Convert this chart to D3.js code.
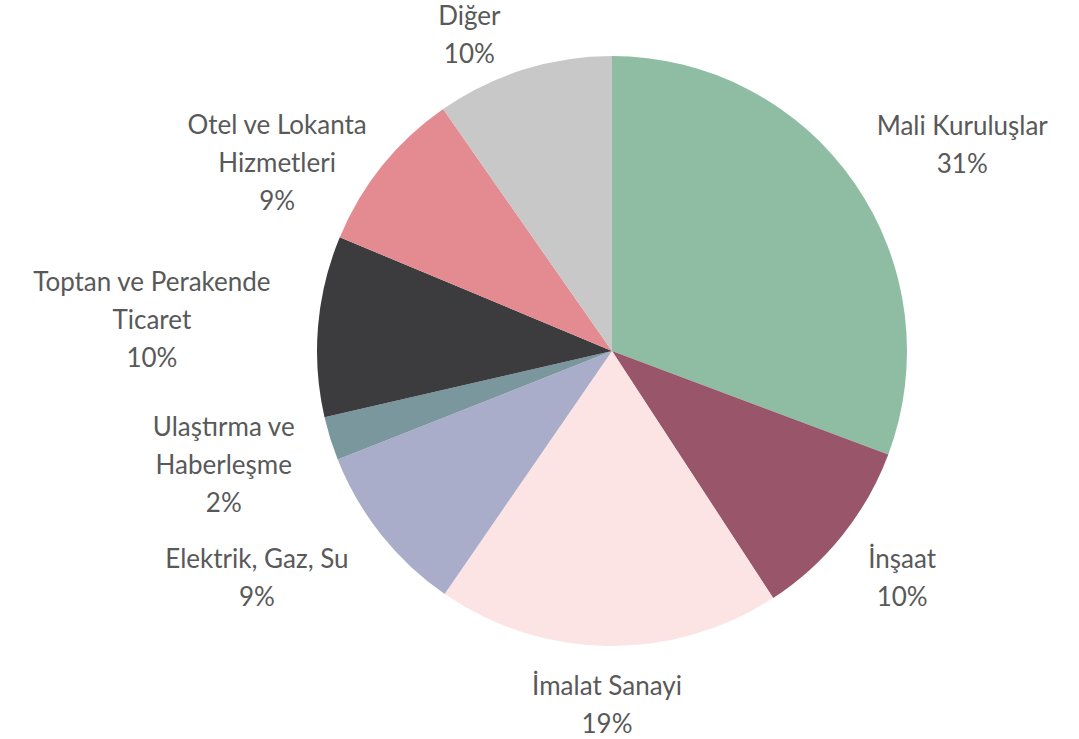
<!DOCTYPE html>
<html>
<head>
    <meta charset="utf-8">
    <title>Sektör Dağılımı</title>
    <script src="https://d3js.org/d3.v7.min.js"></script>
    <style>
        body {
            margin: 0;
            background: #fff;
        }
        .label text {
            font-family: Lato, "Open Sans", sans-serif;
            font-size: 26px;
            fill: #595959;
        }
    </style>
</head>
<body>
<div id="chart"></div>
<script>
    // sektör adları (satır sonları etiketteki gibi)
    const categories = [
        "Mali Kuruluşlar",
        "İnşaat",
        "İmalat Sanayi",
        "Elektrik, Gaz, Su",
        "Ulaştırma ve\nHaberleşme",
        "Toptan ve Perakende\nTicaret",
        "Otel ve Lokanta\nHizmetleri",
        "Diğer"
    ];
    const values = [30.7, 10.1, 18.8, 9.4, 2.4, 9.9, 9.0, 9.7];
    const colors = ["#8fbda3", "#99566b", "#fde4e4", "#aaadca", "#7a979e", "#3c3b3e", "#e48b92", "#c8c8c8"];

    const width = 1079, height = 739;
    const cx = 612, cy = 351, radius = 295;
    const lineHeight = 38;

    // etiketlerin elle kaydırılması (excel'deki gibi)
    const nudge = [[17, -5], [14, 4], [0, -2], [-33, 5], [-15, 2], [-23, 0], [-16, 46], [-37, 22]];

    const data = categories.map((c, i) => ({ name: c, value: values[i], color: colors[i], i: i }));
    const total = d3.sum(values);

    const svg = d3.select("#chart")
        .append("svg")
        .attr("width", width)
        .attr("height", height);

    const g = svg.append("g")
        .attr("transform", `translate(${cx},${cy})`);

    const pie = d3.pie()
        .sort(null)
        .value(d => d.value);

    const arc = d3.arc()
        .innerRadius(0)
        .outerRadius(radius);

    const arcs = pie(data);

    g.selectAll("path")
        .data(arcs)
        .enter()
        .append("path")
        .attr("d", arc)
        .attr("fill", d => d.data.color);

    // etiketler: dilimin orta açısı boyunca dışarıda
    const labels = g.selectAll("g.label")
        .data(arcs)
        .enter()
        .append("g")
        .attr("class", "label");

    labels.each(function (d) {
        const lbl = d3.select(this);
        const lines = d.data.name.split("\n");
        lines.push(Math.round(d.data.value / total * 100) + "%");
        const text = lbl.append("text")
            .attr("text-anchor", "middle");
        lines.forEach((t, i) => {
            text.append("tspan")
                .attr("x", 0)
                .attr("y", i * lineHeight)
                .text(t);
        });

        const box = text.node().getBBox();
        const mid = (d.startAngle + d.endAngle) / 2;
        const dx = Math.sin(mid), dy = -Math.cos(mid);
        const px = dx * (radius + 25), py = dy * (radius + 25);
        const bx = px + dx * box.width / 2 + nudge[d.data.i][0];
        const by = py + dy * box.height / 2 + nudge[d.data.i][1];
        const tx = bx - (box.x + box.width / 2);
        const ty = by - (box.y + box.height / 2);
        lbl.attr("transform", `translate(${tx},${ty})`);
    });
</script>
</body>
</html>
